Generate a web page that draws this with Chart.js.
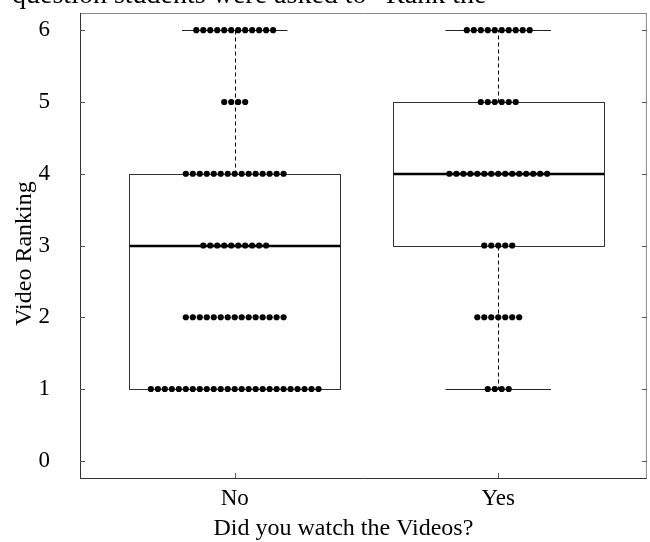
<!DOCTYPE html>
<html>
<head>
<meta charset="utf-8">
<script src="https://cdn.jsdelivr.net/npm/chart.js@4/dist/chart.umd.min.js"></script>
<style>
  html, body { margin: 0; padding: 0; background: #fff; }
  #wrap { position: relative; width: 650px; height: 542px; overflow: hidden; background: #fff; }
  #chart { position: absolute; left: 0; top: 0; }
  #lead {
    position: absolute; left: 12px; top: -20px;
    font: 28px "Liberation Serif", "Times New Roman", serif;
    line-height: 28px; white-space: nowrap; color: #000;
  }
</style>
</head>
<body>
<div id="wrap">
  <canvas id="chart" width="650" height="542"></canvas>
  <div id="lead">question students were asked to “Rank the</div>
</div>
<script>
// Groups and the ranking scale
const categories = ['No', 'Yes'];
const rankings = [1, 2, 3, 4, 5, 6];
const yTicks = [0, 1, 2, 3, 4, 5, 6];
const xTitle = 'Did you watch the Videos?';
const yTitle = 'Video Ranking';

// Number of answers at each ranking (1..6) per group
const countsNo = [25, 15, 10, 15, 4, 12];
const countsYes = [4, 7, 5, 15, 6, 10];

// Box-and-whisker summaries per group
const q1 = [1, 3];
const medians = [3, 4];
const q3 = [4, 5];
const whiskerLow = [1, 1];
const whiskerHigh = [6, 6];

const SERIF = '"Liberation Serif", "Times New Roman", serif';
const DOT_STEP = 0.0265;   // horizontal gap between stacked dots (x units)
const HALF_BOX = 0.4;
const HALF_CAP = 0.2;

// Lay out each ranking's answers as a centred row of dots
function dotRows(groupIndex, counts) {
  const pts = [];
  counts.forEach((n, k) => {
    for (let j = 0; j < n; j++) {
      pts.push({ x: groupIndex + (j - (n - 1) / 2) * DOT_STEP, y: rankings[k] });
    }
  });
  return pts;
}

function seg(ctx, x1, y1, x2, y2) {
  ctx.beginPath(); ctx.moveTo(x1, y1); ctx.lineTo(x2, y2); ctx.stroke();
}

// Frame, inward tick marks, boxes, medians and whiskers
const boxPlugin = {
  id: 'boxes',
  beforeDatasetsDraw(chart) {
    const { ctx, chartArea: a, scales: { x, y } } = chart;
    ctx.save();
    // frame
    ctx.lineWidth = 1;
    ctx.strokeStyle = '#888';
    seg(ctx, a.left, a.top + 0.5, a.right, a.top + 0.5);
    seg(ctx, a.right - 0.5, a.top, a.right - 0.5, a.bottom);
    ctx.strokeStyle = '#333';
    seg(ctx, a.left + 0.5, a.top, a.left + 0.5, a.bottom + 0.5);
    seg(ctx, a.left, a.bottom + 0.5, a.right, a.bottom + 0.5);
    // inward ticks
    ctx.strokeStyle = '#555';
    yTicks.forEach(v => {
      const py = Math.round(y.getPixelForValue(v)) + 0.5;
      seg(ctx, a.left, py, a.left + 5, py);
      seg(ctx, a.right, py, a.right - 5, py);
    });
    categories.forEach((_, i) => {
      const px = Math.round(x.getPixelForValue(i)) + 0.5;
      seg(ctx, px, a.bottom, px, a.bottom - 5);
    });

    categories.forEach((_, i) => {
      const xc = Math.round(x.getPixelForValue(i)) + 0.5;
      const xl = Math.round(x.getPixelForValue(i - HALF_BOX)) + 0.5;
      const xr = Math.round(x.getPixelForValue(i + HALF_BOX)) + 0.5;
      const cl = x.getPixelForValue(i - HALF_CAP);
      const cr = x.getPixelForValue(i + HALF_CAP);
      const py = v => Math.round(y.getPixelForValue(v)) + 0.5;
      const yq1 = py(q1[i]), yq3 = py(q3[i]), ym = py(medians[i]);
      const ylo = py(whiskerLow[i]), yhi = py(whiskerHigh[i]);

      // dashed whiskers
      ctx.strokeStyle = '#000';
      ctx.lineWidth = 1;
      ctx.setLineDash([4, 3]);
      if (yhi < yq3) seg(ctx, xc, yq3, xc, yhi);
      if (ylo > yq1) seg(ctx, xc, yq1, xc, ylo);
      ctx.setLineDash([]);
      // caps
      ctx.strokeStyle = '#222';
      seg(ctx, cl, yhi, cr, yhi);
      seg(ctx, cl, ylo, cr, ylo);
      // box
      ctx.strokeStyle = '#333';
      ctx.strokeRect(xl, yq3, xr - xl, yq1 - yq3);
      // median
      ctx.strokeStyle = '#000';
      ctx.lineWidth = 2.5;
      seg(ctx, xl, ym - 0.5, xr, ym - 0.5);
    });
    ctx.restore();
  },
  // axis captions
  afterDraw(chart) {
    const { ctx, chartArea: a } = chart;
    ctx.save();
    ctx.fillStyle = '#000';
    ctx.font = '24px ' + SERIF;
    ctx.textAlign = 'center';
    ctx.textBaseline = 'alphabetic';
    ctx.fillText(xTitle, (a.left + a.right) / 2 - 20, 535);
    ctx.translate(31, (a.top + a.bottom) / 2 + 8);
    ctx.rotate(-Math.PI / 2);
    ctx.fillText(yTitle, 0, 0);
    ctx.restore();
  }
};

new Chart(document.getElementById('chart'), {
  type: 'scatter',
  data: {
    datasets: [
      { label: categories[0], data: dotRows(0, countsNo) },
      { label: categories[1], data: dotRows(1, countsYes) }
    ]
  },
  options: {
    responsive: false,
    animation: false,
    events: [],
    layout: { padding: { top: 13, right: 2, left: 0, bottom: 0 } },
    elements: {
      point: { radius: 3.1, backgroundColor: '#000', borderWidth: 0, hoverRadius: 3.1 }
    },
    plugins: { legend: { display: false }, tooltip: { enabled: false } },
    scales: {
      x: {
        type: 'linear',
        min: -0.587,
        max: 1.564,
        afterBuildTicks: s => { s.ticks = categories.map((_, i) => ({ value: i })); },
        afterFit: s => { s.height = 64; s.paddingLeft = 0; s.paddingRight = 0; },
        grid: { display: false, drawTicks: false },
        border: { display: false },
        ticks: {
          padding: 7,
          color: '#000',
          font: { family: SERIF, size: 23 },
          callback: v => categories[v]
        },
        title: { display: false }
      },
      y: {
        min: -0.24,
        max: 6.24,
        afterBuildTicks: s => { s.ticks = yTicks.map(v => ({ value: v })); },
        afterFit: s => { s.width = 80; s.paddingTop = 0; s.paddingBottom = 0; },
        grid: { display: false, drawTicks: false },
        border: { display: false },
        ticks: {
          padding: 30,
          color: '#000',
          font: { family: SERIF, size: 23 }
        },
        title: { display: false }
      }
    }
  },
  plugins: [boxPlugin]
});
</script>
</body>
</html>
